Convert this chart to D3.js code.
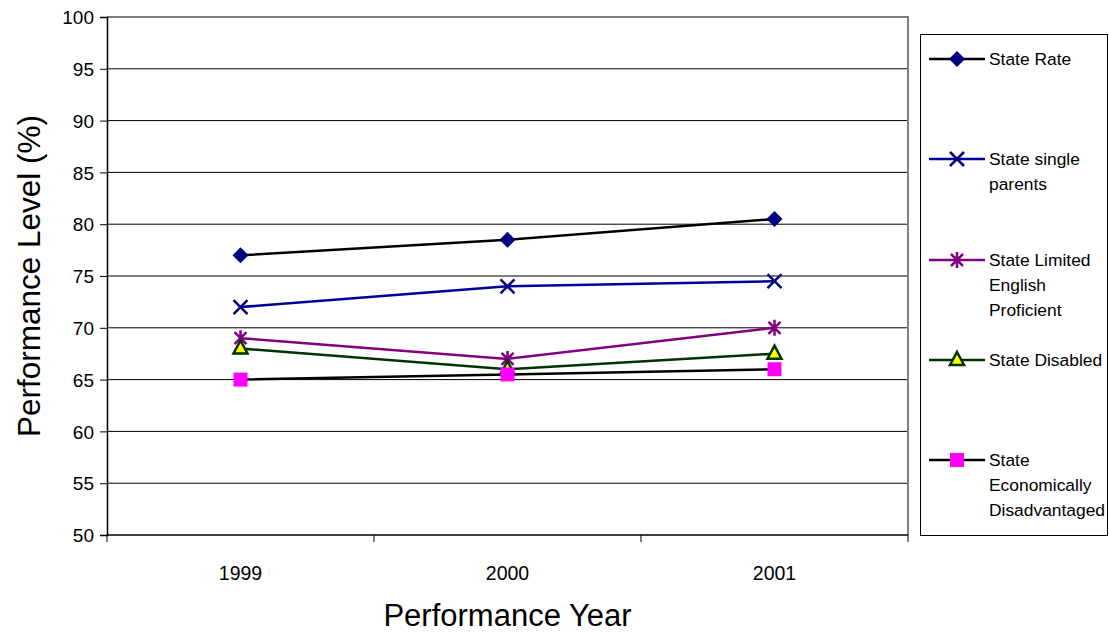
<!DOCTYPE html>
<html>
<head>
<meta charset="utf-8">
<script src="https://cdn.jsdelivr.net/npm/d3@7"></script>
<style>
  body { margin: 0; background: #fff; }
  text { font-family: Arial, "Liberation Sans", sans-serif; fill: #000; }
</style>
</head>
<body>
<div id="chart"></div>
<script>
let width = 1109,
	height = 635;

// data
let years = ['1999', '2000', '2001'];
let seriesNames = ['State Rate', 'State single parents', 'State Limited English Proficient', 'State Disabled', 'State Economically Disadvantaged'];
let stateRate = [77, 78.5, 80.5];
let singleParents = [72, 74, 74.5];
let limitedEnglish = [69, 67, 70];
let disabled = [68, 66, 67.5];
let econDisadvantaged = [65, 65.5, 66];
let yTicks = [50, 55, 60, 65, 70, 75, 80, 85, 90, 95, 100];

let legendLines = [['State Rate'], ['State single', 'parents'], ['State Limited', 'English', 'Proficient'], ['State Disabled'], ['State', 'Economically', 'Disadvantaged']];

let styles = [
	{line: '#000000', marker: 'diamond', fill: '#000080', stroke: '#000080'},
	{line: '#0000a0', marker: 'x', fill: 'none', stroke: '#000080'},
	{line: '#800080', marker: 'star', fill: 'none', stroke: '#800080'},
	{line: '#003300', marker: 'triangle', fill: '#ffff00', stroke: '#003300'},
	{line: '#000000', marker: 'square', fill: '#ff00ff', stroke: 'none'}
];

let series = [stateRate, singleParents, limitedEnglish, disabled, econDisadvantaged];

let plot = {left: 107, right: 908, top: 17, bottom: 535};

let svg = d3.select('#chart').append('svg').attr('width', width).attr('height', height);

let x = d3.scaleBand().domain(years).range([plot.left, plot.right]);
let y = d3.scaleLinear().domain([50, 100]).range([plot.bottom, plot.top]);

// gridlines
svg.append('g').selectAll('line').data(yTicks.slice(1, -1)).enter().append('line')
	.attr('x1', plot.left).attr('x2', plot.right)
	.attr('y1', d => y(d)).attr('y2', d => y(d))
	.attr('stroke', '#000').attr('stroke-width', 1);

// plot area border top / right (gray)
svg.append('path')
	.attr('d', `M${plot.left},${plot.top}H${plot.right}V${plot.bottom}`)
	.attr('fill', 'none').attr('stroke', '#808080').attr('stroke-width', 2);

// y axis
let yAxis = svg.append('g').attr('transform', `translate(${plot.left},0)`)
	.call(d3.axisLeft(y).tickValues(yTicks).tickSize(7).tickPadding(6));
yAxis.select('.domain').attr('stroke', '#000').attr('stroke-width', 1.5);
yAxis.selectAll('.tick line').attr('stroke', '#000');
yAxis.selectAll('text').style('font-size', '19px').attr('dy', '0.35em');

// x axis: ticks at band edges
let xAxis = svg.append('g').attr('transform', `translate(0,${plot.bottom})`);
xAxis.append('line').attr('x1', plot.left).attr('x2', plot.right)
	.attr('stroke', '#000').attr('stroke-width', 1.5);
let edges = years.map(d => x(d)).concat([plot.right]);
xAxis.selectAll('line.tk').data(edges).enter().append('line').attr('class', 'tk')
	.attr('x1', d => d).attr('x2', d => d).attr('y1', 0).attr('y2', 7)
	.attr('stroke', '#000');
xAxis.selectAll('text').data(years).enter().append('text')
	.attr('x', d => x(d) + x.bandwidth() / 2).attr('y', 45)
	.attr('text-anchor', 'middle').style('font-size', '19.5px')
	.text(d => d);

// axis titles
svg.append('text').attr('x', (plot.left + plot.right) / 2).attr('y', 626)
	.attr('text-anchor', 'middle').style('font-size', '31px').text('Performance Year');
svg.append('text').attr('transform', `translate(40,${(plot.top + plot.bottom) / 2}) rotate(-90)`)
	.attr('text-anchor', 'middle').style('font-size', '31.5px').text('Performance Level (%)');

function marker(g, type, st) {
	if (type === 'diamond') {
		g.append('path').attr('d', 'M0,-8L8,0L0,8L-8,0Z').attr('fill', st.fill);
	} else if (type === 'x') {
		g.append('path').attr('d', 'M-7,-7L7,7M-7,7L7,-7').attr('stroke', st.stroke).attr('stroke-width', 2.5).attr('fill', 'none');
	} else if (type === 'star') {
		g.append('path').attr('d', 'M-6,-6L6,6M-6,6L6,-6M0,-8V8').attr('stroke', st.stroke).attr('stroke-width', 2.5).attr('fill', 'none');
	} else if (type === 'triangle') {
		g.append('path').attr('d', 'M0,-8L7,5L-7,5Z').attr('fill', st.fill).attr('stroke', st.stroke).attr('stroke-width', 2.5);
	} else if (type === 'square') {
		g.append('rect').attr('x', -7).attr('y', -7).attr('width', 14).attr('height', 14).attr('fill', st.fill);
	}
}

let line = d3.line().x((d, i) => x(years[i]) + x.bandwidth() / 2).y(d => y(d));

series.forEach((vals, si) => {
	let st = styles[si];
	svg.append('path').datum(vals).attr('d', line)
		.attr('fill', 'none').attr('stroke', st.line).attr('stroke-width', 2.5);
});
series.forEach((vals, si) => {
	let st = styles[si];
	vals.forEach((v, i) => {
		let g = svg.append('g').attr('transform', `translate(${x(years[i]) + x.bandwidth() / 2},${y(v)})`);
		marker(g, st.marker, st);
	});
});

// legend
let legend = svg.append('g');
legend.append('rect').attr('x', 920.5).attr('y', 34.5).attr('width', 187).attr('height', 501)
	.attr('fill', '#fff').attr('stroke', '#000').attr('stroke-width', 1);
let legendY = [59, 159, 260, 360, 460];
seriesNames.forEach((name, si) => {
	let st = styles[si];
	let ly = legendY[si];
	legend.append('line').attr('x1', 929).attr('x2', 985).attr('y1', ly).attr('y2', ly)
		.attr('stroke', st.line).attr('stroke-width', 2.5);
	marker(legend.append('g').attr('transform', `translate(957,${ly})`), st.marker, st);
	let t = legend.append('text').attr('x', 989).attr('y', ly).style('font-size', '17.4px');
	legendLines[si].forEach((ln, k) => {
		t.append('tspan').attr('x', 989).attr('y', ly + k * 25).attr('dy', '0.35em').text(ln);
	});
});
</script>
</body>
</html>
